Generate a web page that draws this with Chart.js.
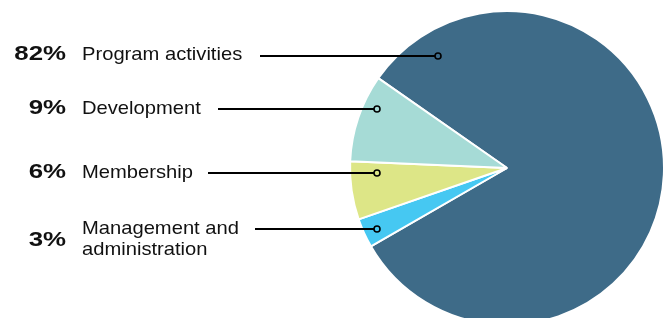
<!DOCTYPE html>
<html>
<head>
<meta charset="utf-8">
<script src="https://cdn.jsdelivr.net/npm/chart.js@4/dist/chart.umd.min.js"></script>
<style>
html,body{margin:0;padding:0;background:#fff;overflow:hidden;width:666px;height:318px;}
#wrap{position:absolute;left:0;top:0;width:666px;height:336px;}
</style>
</head>
<body>
<div id="wrap"><canvas id="c" width="666" height="336"></canvas></div>
<script>
// Data (clockwise order starting at upper-left boundary)
const categories = ["Program activities", "Management and administration", "Membership", "Development"];
const values = [82, 3, 6, 9];
const pctLabels = ["82%", "3%", "6%", "9%"];
const colors = ["#3e6b88", "#46c8f2", "#dde687", "#a6dbd6"];

// Annotation layout (label rows, leader line start, dot position relative to pie centre)
const rows = [
  {i:0, y:54, lines:["Program activities"], lineStart:260, lineY:56, dotDx:-69},
  {i:3, y:108, lines:["Development"], lineStart:218, lineY:109, dotDx:-130},
  {i:2, y:172, lines:["Membership"], lineStart:208, lineY:173, dotDx:-130},
  {i:1, y:240, lines:["Management and", "administration"], lineStart:255, lineY:229, dotDx:-130}
];

function drawScaled(ctx, text, x, y, sx, align){
  ctx.save();
  ctx.translate(x, y);
  ctx.scale(sx, 1);
  ctx.textAlign = align;
  ctx.fillText(text, 0, 0);
  ctx.restore();
}

const labelPlugin = {
  id: 'labels',
  afterDraw(chart){
    const ctx = chart.ctx;
    const arc = chart.getDatasetMeta(0).data[0];
    const cx = arc.x;
    ctx.save();
    rows.forEach(r => {
      ctx.fillStyle = '#111';
      ctx.textBaseline = 'middle';
      ctx.font = 'bold 21px "Liberation Sans", Arial, sans-serif';
      drawScaled(ctx, pctLabels[r.i], 66, r.y, 1.23, 'right');
      ctx.font = '18.5px "Liberation Sans", Arial, sans-serif';
      if (r.lines.length === 1) {
        drawScaled(ctx, r.lines[0], 82, r.y + 1, 1.09, 'left');
      } else {
        drawScaled(ctx, r.lines[0], 82, r.y - 11, 1.09, 'left');
        drawScaled(ctx, r.lines[1], 82, r.y + 10, 1.09, 'left');
      }
      const dx = cx + r.dotDx;
      ctx.strokeStyle = '#000';
      ctx.lineWidth = 2;
      ctx.beginPath();
      ctx.moveTo(r.lineStart, r.lineY);
      ctx.lineTo(dx - 3, r.lineY);
      ctx.stroke();
      ctx.beginPath();
      ctx.arc(dx, r.lineY, 3, 0, Math.PI*2);
      ctx.fillStyle = colors[r.i];
      ctx.fill();
      ctx.lineWidth = 1.6;
      ctx.stroke();
    });
    ctx.restore();
  }
};

new Chart(document.getElementById('c'), {
  type: 'pie',
  data: {
    labels: categories,
    datasets: [{
      data: values,
      backgroundColor: colors,
      borderColor: '#fff',
      borderWidth: 2
    }]
  },
  options: {
    responsive: false,
    animation: false,
    rotation: -55.1,
    layout: { padding: { left: 349, right: 1, top: 10, bottom: 10 } },
    plugins: { legend: { display: false }, tooltip: { enabled: false } }
  },
  plugins: [labelPlugin]
});
</script>
</body>
</html>
